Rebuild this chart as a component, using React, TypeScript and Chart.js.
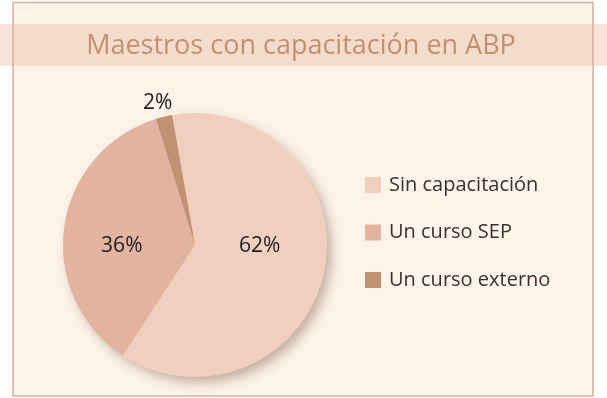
import React, { useEffect, useRef } from "react";
import { Chart, registerables } from "chart.js";

Chart.register(...registerables);

const TITLE = "Maestros con capacitación en ABP";
const categories = ["Sin capacitación", "Un curso SEP", "Un curso externo"];
const values = [62, 36, 2];
const colors = ["#f0cfbf", "#e2b4a0", "#c29173"];
const FONT = "'Open Sans', 'Noto Sans', sans-serif";

const framePlugin = {
  id: "frame",
  beforeDraw(chart: any) {
    const ctx = chart.ctx;
    const W = chart.width;
    ctx.save();
    ctx.fillStyle = "#ffffff";
    ctx.fillRect(0, 0, W, chart.height);
    ctx.fillStyle = "#f7e4db";
    ctx.fillRect(0, 24, W, 42);
    ctx.fillStyle = "#fdf3e8";
    ctx.fillRect(13, 2, 580, 394);
    ctx.fillStyle = "#f4dccd";
    ctx.fillRect(13, 24, 580, 42);
    ctx.strokeStyle = "#d6b098";
    ctx.lineWidth = 1.5;
    ctx.strokeRect(13, 2.5, 580, 393.5);
    ctx.fillStyle = "#c2906f";
    ctx.font = `27px ${FONT}`;
    ctx.textAlign = "center";
    ctx.textBaseline = "middle";
    ctx.fillText(TITLE, 301, 46);
    ctx.restore();
  },
  beforeDatasetsDraw(chart: any) {
    const arc = chart.getDatasetMeta(0).data[0];
    if (!arc) return;
    const { x, y, outerRadius } = arc.getProps(["x", "y", "outerRadius"], true);
    const ctx = chart.ctx;
    ctx.save();
    ctx.shadowColor = "rgba(110, 70, 50, 0.4)";
    ctx.shadowBlur = 12;
    ctx.shadowOffsetX = 5;
    ctx.shadowOffsetY = 6;
    ctx.fillStyle = colors[0];
    ctx.beginPath();
    ctx.arc(x, y, outerRadius - 0.5, 0, Math.PI * 2);
    ctx.fill();
    ctx.restore();
  },
  afterDatasetsDraw(chart: any) {
    const ctx = chart.ctx;
    const meta = chart.getDatasetMeta(0);
    ctx.save();
    ctx.fillStyle = "#222222";
    ctx.font = `21px ${FONT}`;
    ctx.textAlign = "center";
    ctx.textBaseline = "middle";
    meta.data.forEach((el: any, i: number) => {
      const { x, y, startAngle, endAngle, outerRadius } = el.getProps(
        ["x", "y", "startAngle", "endAngle", "outerRadius"],
        true
      );
      const mid = (startAngle + endAngle) / 2;
      const label = values[i] + "%";
      if (values[i] < 5) {
        const r = outerRadius + 14;
        ctx.fillText(label, x + Math.cos(mid) * r - 3, y + Math.sin(mid) * r);
      } else {
        const r = outerRadius * (Math.cos(mid) < 0 ? 0.56 : 0.5);
        ctx.fillText(label, x + Math.cos(mid) * r, y + 1);
      }
    });
    ctx.restore();
  },
  afterDraw(chart: any) {
    const ctx = chart.ctx;
    const ds = chart.data.datasets[0];
    ctx.save();
    ctx.font = `20px ${FONT}`;
    ctx.textAlign = "left";
    ctx.textBaseline = "middle";
    chart.data.labels.forEach((lab: string, i: number) => {
      const rowY = 185 + i * 47.5;
      ctx.fillStyle = ds.backgroundColor[i];
      ctx.fillRect(365, rowY - 8, 16, 16);
      ctx.fillStyle = "#333333";
      ctx.fillText(lab, 389, rowY);
    });
    ctx.restore();
  },
};

export default function App() {
  const ref = useRef<HTMLCanvasElement>(null);
  useEffect(() => {
    document.body.style.margin = "0";
    const chart = new Chart(ref.current!, {
      type: "pie",
      data: {
        labels: categories,
        datasets: [
          {
            data: values,
            backgroundColor: colors,
            borderWidth: 0,
          },
        ],
      },
      options: {
        responsive: false,
        maintainAspectRatio: false,
        animation: false,
        rotation: -10,
        layout: { padding: { left: 63, right: 280, top: 113, bottom: 21 } },
        plugins: {
          legend: { display: false },
          tooltip: { enabled: false },
          title: { display: false },
        },
      },
      plugins: [framePlugin],
    });
    return () => chart.destroy();
  }, []);
  return (
    <div style={{ width: 607, height: 398 }}>
      <canvas ref={ref} width={607} height={398} style={{ display: "block" }} />
    </div>
  );
}
